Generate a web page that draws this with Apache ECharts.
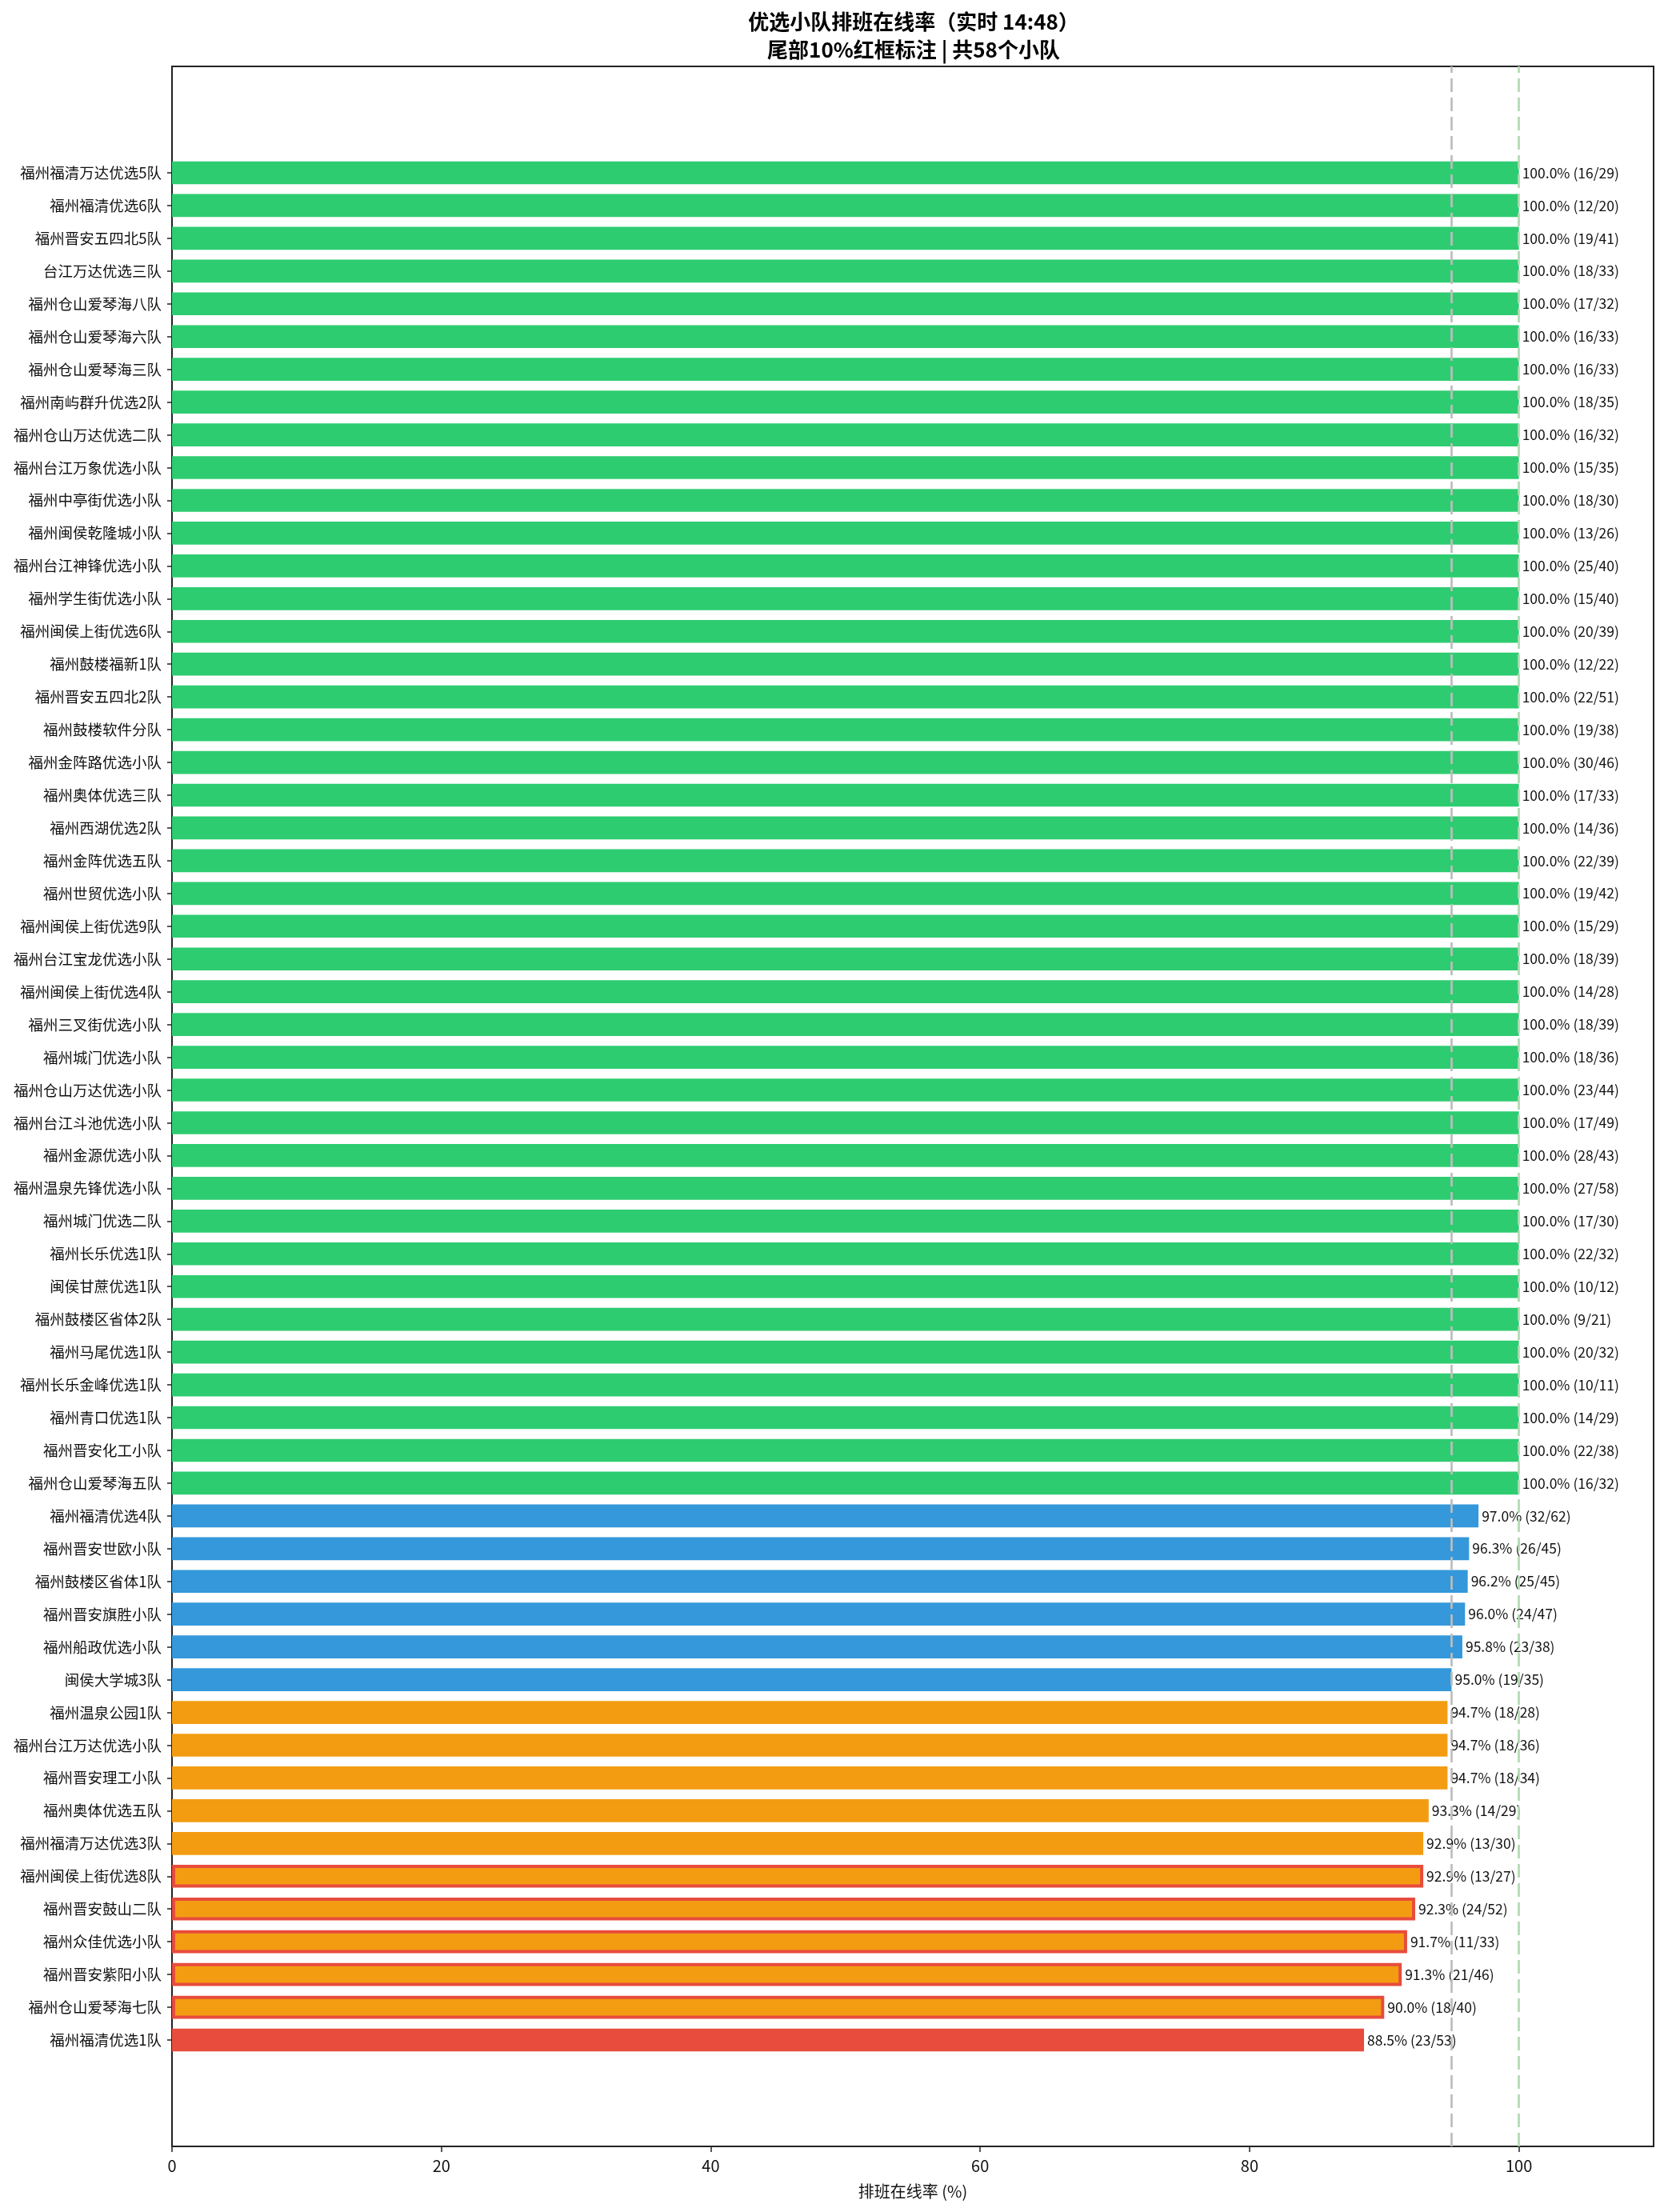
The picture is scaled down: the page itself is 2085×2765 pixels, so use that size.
<!DOCTYPE html>
<html>
<head>
<meta charset="UTF-8">
<title>优选小队排班在线率</title>
<style>
  html, body { margin: 0; padding: 0; background: #fff; }
</style>
</head>
<body>
<div id="main" style="width: 2085px;height:2765px;"></div>
<script src="https://cdn.jsdelivr.net/npm/echarts@6/dist/echarts.min.js"></script>
<script type="text/javascript">
// 小队名称（自上而下）
var teamNames = [
  '福州福清万达优选5队', '福州福清优选6队', '福州晋安五四北5队', '台江万达优选三队', '福州仓山爱琴海八队',
  '福州仓山爱琴海六队', '福州仓山爱琴海三队', '福州南屿群升优选2队', '福州仓山万达优选二队', '福州台江万象优选小队',
  '福州中亭街优选小队', '福州闽侯乾隆城小队', '福州台江神锋优选小队', '福州学生街优选小队', '福州闽侯上街优选6队',
  '福州鼓楼福新1队', '福州晋安五四北2队', '福州鼓楼软件分队', '福州金阵路优选小队', '福州奥体优选三队',
  '福州西湖优选2队', '福州金阵优选五队', '福州世贸优选小队', '福州闽侯上街优选9队', '福州台江宝龙优选小队',
  '福州闽侯上街优选4队', '福州三叉街优选小队', '福州城门优选小队', '福州仓山万达优选小队', '福州台江斗池优选小队',
  '福州金源优选小队', '福州温泉先锋优选小队', '福州城门优选二队', '福州长乐优选1队', '闽侯甘蔗优选1队',
  '福州鼓楼区省体2队', '福州马尾优选1队', '福州长乐金峰优选1队', '福州青口优选1队', '福州晋安化工小队',
  '福州仓山爱琴海五队', '福州福清优选4队', '福州晋安世欧小队', '福州鼓楼区省体1队', '福州晋安旗胜小队',
  '福州船政优选小队', '闽侯大学城3队', '福州温泉公园1队', '福州台江万达优选小队', '福州晋安理工小队',
  '福州奥体优选五队', '福州福清万达优选3队', '福州闽侯上街优选8队', '福州晋安鼓山二队', '福州众佳优选小队',
  '福州晋安紫阳小队', '福州仓山爱琴海七队', '福州福清优选1队'
];

// 排班在线率 (%)
var onlineRates = [
  100, 100, 100, 100, 100, 100, 100, 100, 100, 100,
  100, 100, 100, 100, 100, 100, 100, 100, 100, 100,
  100, 100, 100, 100, 100, 100, 100, 100, 100, 100,
  100, 100, 100, 100, 100, 100, 100, 100, 100, 100,
  100, 97.0, 96.3, 96.2, 96.0, 95.8, 95.0, 94.7, 94.7, 94.7,
  93.3, 92.9, 92.9, 92.3, 91.7, 91.3, 90.0, 88.5
];

// 括号内人数 (a/b)
var countA = [
  16, 12, 19, 18, 17, 16, 16, 18, 16, 15,
  18, 13, 25, 15, 20, 12, 22, 19, 30, 17,
  14, 22, 19, 15, 18, 14, 18, 18, 23, 17,
  28, 27, 17, 22, 10, 9, 20, 10, 14, 22,
  16, 32, 26, 25, 24, 23, 19, 18, 18, 18,
  14, 13, 13, 24, 11, 21, 18, 23
];
var countB = [
  29, 20, 41, 33, 32, 33, 33, 35, 32, 35,
  30, 26, 40, 40, 39, 22, 51, 38, 46, 33,
  36, 39, 42, 29, 39, 28, 39, 36, 44, 49,
  43, 58, 30, 32, 12, 21, 32, 11, 29, 38,
  32, 62, 45, 45, 47, 38, 35, 28, 36, 34,
  29, 30, 27, 52, 33, 46, 40, 53
];

// x轴刻度与参考线
var xTicks = [0, 20, 40, 60, 80, 100];
var refLines = [95, 100];

var FONT = 'Noto Sans CJK SC';
var myChart = echarts.init(document.getElementById('main'));

function barColor(v) {
  if (v >= 100) return '#2ecc71';
  if (v >= 95) return '#3498db';
  if (v >= 90) return '#f39c12';
  return '#e74c3c';
}

var tailCount = Math.round(teamNames.length * 0.1);
var barData = onlineRates.map(function (v, i) {
  var item = { value: v, itemStyle: { color: barColor(v) } };
  if (i >= teamNames.length - tailCount) {
    item.itemStyle.borderColor = '#e74c3c';
    item.itemStyle.borderWidth = 4;
  }
  return item;
});

var option = {
  animation: false,
  backgroundColor: '#fff',
  textStyle: { fontFamily: FONT },
  title: {
    text: '优选小队排班在线率（实时 14:48）\n尾部10%红框标注 | 共58个小队',
    left: 1142,
    top: 10,
    padding: 0,
    textAlign: 'center',
    textStyle: { fontFamily: FONT, fontSize: 26, fontWeight: 'bold', color: '#000', lineHeight: 35 }
  },
  grid: [
    { left: 215, right: 18, top: 83, bottom: 82, show: true, borderColor: '#222', borderWidth: 2, backgroundColor: 'transparent' },
    { left: 215, right: 18, top: 195.5, bottom: 194.5 }
  ],
  xAxis: [
    {
      type: 'value', gridIndex: 0, min: 0, max: 110, interval: 20,
      name: '排班在线率 (%)', nameLocation: 'middle', nameGap: 46,
      nameTextStyle: { fontFamily: FONT, fontSize: 20, color: '#111' },
      axisLine: { show: true, lineStyle: { color: '#222', width: 2 } },
      axisTick: { show: true, length: 7, lineStyle: { color: '#222', width: 1.5 } },
      axisLabel: {
        fontFamily: FONT, fontSize: 20, color: '#111', margin: 14, showMaxLabel: false,
        formatter: function (v) { return xTicks.indexOf(v) >= 0 ? String(v) : ''; }
      },
      splitLine: { show: false }
    },
    { type: 'value', gridIndex: 1, min: 0, max: 110, show: false }
  ],
  yAxis: [
    { type: 'value', gridIndex: 0, min: 0, max: 1, show: false },
    {
      type: 'category', gridIndex: 1, inverse: true, data: teamNames,
      axisLine: { show: false },
      axisTick: { show: true, alignWithLabel: true, length: 6, lineStyle: { color: '#222', width: 1.5 } },
      axisLabel: { fontFamily: FONT, fontSize: 18.5, color: '#111', margin: 13 },
      splitLine: { show: false }
    }
  ],
  series: [
    {
      name: '排班在线率',
      type: 'bar',
      xAxisIndex: 1,
      yAxisIndex: 1,
      barCategoryGap: '30%',
      data: barData,
      label: {
        show: true,
        position: 'right',
        distance: 4,
        fontFamily: FONT,
        fontSize: 17.5,
        color: '#111',
        formatter: function (p) {
          return onlineRates[p.dataIndex].toFixed(1) + '% (' + countA[p.dataIndex] + '/' + countB[p.dataIndex] + ')';
        }
      }
    },
    {
      name: '参考线',
      type: 'line',
      xAxisIndex: 0,
      yAxisIndex: 0,
      data: [],
      z: 10,
      markLine: {
        silent: true,
        symbol: ['none', 'none'],
        label: { show: false },
        lineStyle: { type: [17, 7], width: 2.7 },
        data: [
          { xAxis: refLines[0], lineStyle: { color: '#bdbdbd' } },
          { xAxis: refLines[1], lineStyle: { color: '#b3d9b3' } }
        ]
      }
    }
  ]
};

myChart.setOption(option);
</script>
</body>
</html>
